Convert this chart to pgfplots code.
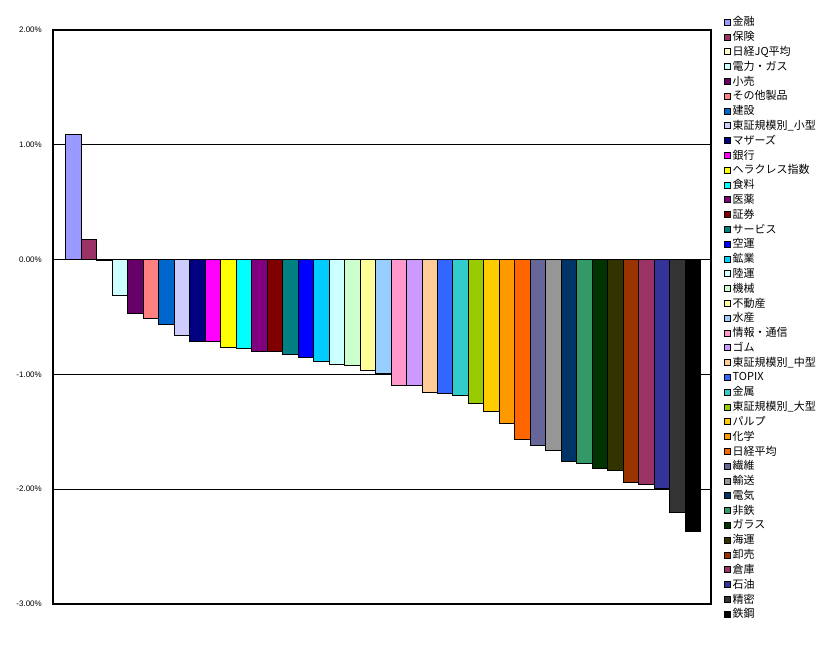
\documentclass[border=0pt]{standalone}
\usepackage{pgfplots}
\pgfplotsset{compat=1.18}
\usepackage{fontspec}
\setmainfont{Noto Sans CJK JP}
\newfontfamily\tickfont{Liberation Sans}
\definecolor{c1}{HTML}{9999FF}
\definecolor{c2}{HTML}{993366}
\definecolor{c3}{HTML}{FFFFCC}
\definecolor{c4}{HTML}{CCFFFF}
\definecolor{c5}{HTML}{660066}
\definecolor{c6}{HTML}{FF8080}
\definecolor{c7}{HTML}{0066CC}
\definecolor{c8}{HTML}{CCCCFF}
\definecolor{c9}{HTML}{000080}
\definecolor{c10}{HTML}{FF00FF}
\definecolor{c11}{HTML}{FFFF00}
\definecolor{c12}{HTML}{00FFFF}
\definecolor{c13}{HTML}{800080}
\definecolor{c14}{HTML}{800000}
\definecolor{c15}{HTML}{008080}
\definecolor{c16}{HTML}{0000FF}
\definecolor{c17}{HTML}{00CCFF}
\definecolor{c18}{HTML}{CCFFFF}
\definecolor{c19}{HTML}{CCFFCC}
\definecolor{c20}{HTML}{FFFF99}
\definecolor{c21}{HTML}{99CCFF}
\definecolor{c22}{HTML}{FF99CC}
\definecolor{c23}{HTML}{CC99FF}
\definecolor{c24}{HTML}{FFCC99}
\definecolor{c25}{HTML}{3366FF}
\definecolor{c26}{HTML}{33CCCC}
\definecolor{c27}{HTML}{99CC00}
\definecolor{c28}{HTML}{FFCC00}
\definecolor{c29}{HTML}{FF9900}
\definecolor{c30}{HTML}{FF6600}
\definecolor{c31}{HTML}{666699}
\definecolor{c32}{HTML}{969696}
\definecolor{c33}{HTML}{003366}
\definecolor{c34}{HTML}{339966}
\definecolor{c35}{HTML}{003300}
\definecolor{c36}{HTML}{333300}
\definecolor{c37}{HTML}{993300}
\definecolor{c38}{HTML}{993366}
\definecolor{c39}{HTML}{333399}
\definecolor{c40}{HTML}{333333}
\definecolor{c41}{HTML}{000000}
\begin{document}
\begin{tikzpicture}
\useasboundingbox (0,0) rectangle (831pt,647pt);
\begin{axis}[
  at={(53pt,43pt)}, anchor=south west,
  scale only axis, width=658pt, height=574pt,
  ybar,
  xmin=-1.317, xmax=41.165,
  ymin=-3, ymax=2,
  ytick={-3,-2,-1,0,1,2},
  xtick=\empty,
  major tick length=0pt,
  ymajorgrids, grid style={black, line width=0.8pt},
  axis line style={black, line width=1.1pt},
  yticklabel={\pgfmathprintnumber[fixed,fixed zerofill,precision=2,assume math mode=true]{\tick}\%},
  yticklabel style={font=\tickfont\fontsize{8}{9}\selectfont, inner sep=0pt, xshift=-11pt},
  every axis plot/.append style={bar width=1, bar shift=0pt, draw=black, line width=0.8pt},
  legend image code/.code={\draw[#1, line width=0.6pt] (0pt,-3pt) rectangle (6pt,3pt);},
  legend cell align=left,
  legend style={at={(1.0198,1.0268)}, anchor=north west, draw=none, fill=none,
    inner sep=0pt, outer sep=0pt, row sep=0pt, column sep=2pt,
    nodes={inner sep=0pt, minimum height=14.8pt, font=\fontsize{11}{12}\selectfont}},
]
\addplot[fill=c1] coordinates {(0,1.093)}; \addlegendentry{金融}
\addplot[fill=c2] coordinates {(1,0.174)}; \addlegendentry{保険}
\addplot[fill=c3] coordinates {(2,-0.01)}; \addlegendentry{日経JQ平均}
\addplot[fill=c4] coordinates {(3,-0.316)}; \addlegendentry{電力・ガス}
\addplot[fill=c5] coordinates {(4,-0.472)}; \addlegendentry{小売}
\addplot[fill=c6] coordinates {(5,-0.513)}; \addlegendentry{その他製品}
\addplot[fill=c7] coordinates {(6,-0.565)}; \addlegendentry{建設}
\addplot[fill=c8] coordinates {(7,-0.661)}; \addlegendentry{東証規模別\_小型}
\addplot[fill=c9] coordinates {(8,-0.71)}; \addlegendentry{マザーズ}
\addplot[fill=c10] coordinates {(9,-0.712)}; \addlegendentry{銀行}
\addplot[fill=c11] coordinates {(10,-0.768)}; \addlegendentry{ヘラクレス指数}
\addplot[fill=c12] coordinates {(11,-0.777)}; \addlegendentry{食料}
\addplot[fill=c13] coordinates {(12,-0.797)}; \addlegendentry{医薬}
\addplot[fill=c14] coordinates {(13,-0.803)}; \addlegendentry{証券}
\addplot[fill=c15] coordinates {(14,-0.83)}; \addlegendentry{サービス}
\addplot[fill=c16] coordinates {(15,-0.855)}; \addlegendentry{空運}
\addplot[fill=c17] coordinates {(16,-0.89)}; \addlegendentry{鉱業}
\addplot[fill=c18] coordinates {(17,-0.916)}; \addlegendentry{陸運}
\addplot[fill=c19] coordinates {(18,-0.925)}; \addlegendentry{機械}
\addplot[fill=c20] coordinates {(19,-0.968)}; \addlegendentry{不動産}
\addplot[fill=c21] coordinates {(20,-0.99)}; \addlegendentry{水産}
\addplot[fill=c22] coordinates {(21,-1.096)}; \addlegendentry{情報・通信}
\addplot[fill=c23] coordinates {(22,-1.10)}; \addlegendentry{ゴム}
\addplot[fill=c24] coordinates {(23,-1.157)}; \addlegendentry{東証規模別\_中型}
\addplot[fill=c25] coordinates {(24,-1.166)}; \addlegendentry{TOPIX}
\addplot[fill=c26] coordinates {(25,-1.184)}; \addlegendentry{金属}
\addplot[fill=c27] coordinates {(26,-1.254)}; \addlegendentry{東証規模別\_大型}
\addplot[fill=c28] coordinates {(27,-1.324)}; \addlegendentry{パルプ}
\addplot[fill=c29] coordinates {(28,-1.43)}; \addlegendentry{化学}
\addplot[fill=c30] coordinates {(29,-1.57)}; \addlegendentry{日経平均}
\addplot[fill=c31] coordinates {(30,-1.62)}; \addlegendentry{繊維}
\addplot[fill=c32] coordinates {(31,-1.665)}; \addlegendentry{輸送}
\addplot[fill=c33] coordinates {(32,-1.758)}; \addlegendentry{電気}
\addplot[fill=c34] coordinates {(33,-1.775)}; \addlegendentry{非鉄}
\addplot[fill=c35] coordinates {(34,-1.82)}; \addlegendentry{ガラス}
\addplot[fill=c36] coordinates {(35,-1.835)}; \addlegendentry{海運}
\addplot[fill=c37] coordinates {(36,-1.94)}; \addlegendentry{卸売}
\addplot[fill=c38] coordinates {(37,-1.957)}; \addlegendentry{倉庫}
\addplot[fill=c39] coordinates {(38,-1.995)}; \addlegendentry{石油}
\addplot[fill=c40] coordinates {(39,-2.205)}; \addlegendentry{精密}
\addplot[fill=c41] coordinates {(40,-2.365)}; \addlegendentry{鉄鋼}
\end{axis}
\end{tikzpicture}
\end{document}
